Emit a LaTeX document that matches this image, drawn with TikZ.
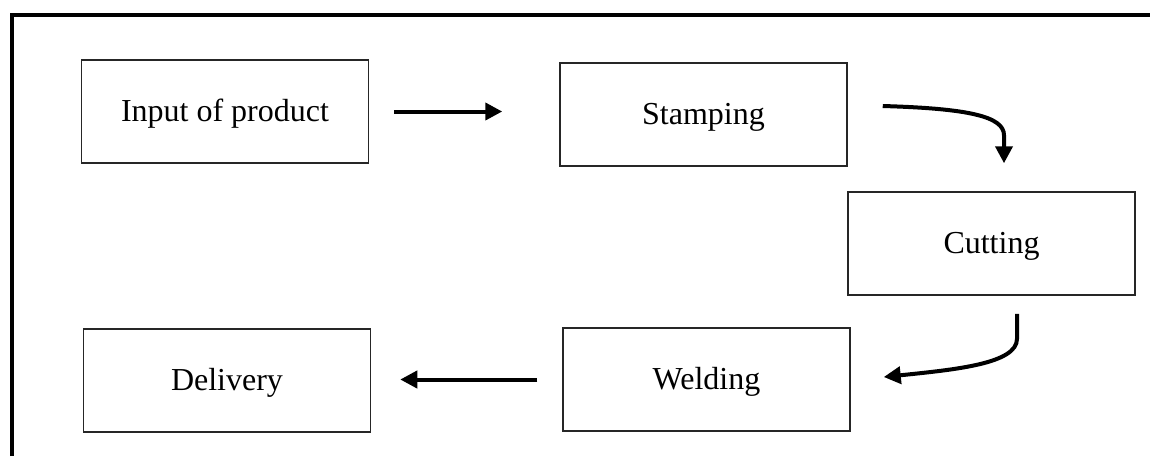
\documentclass[tikz,border=0pt]{standalone}
\usepackage{fontspec}
\setmainfont{Liberation Serif}
\usetikzlibrary{arrows.meta,calc}
\begin{document}
\begin{tikzpicture}[x=0.5pt,y=-0.5pt,
  stepbox/.style={draw=black!85,line width=0.75pt,minimum width=143.5pt,minimum height=51.5pt,inner sep=0pt,text depth=1pt,font=\fontsize{16}{19}\selectfont},
  arr/.style={line width=2pt,-{Triangle[length=8.5pt,width=8.5pt]}},
  frame/.style={line width=2pt}]
\useasboundingbox (0,0) rectangle (1150,456);
\draw[frame] (12,456) -- (12,14.5) -- (1150,14.5);
\node[stepbox] (inp) at (225,111.5) {Input of product};
\node[stepbox] (stamp) at (703.5,114.5) {Stamping};
\node[stepbox] (cut) at (991.5,243.5) {Cutting};
\node[stepbox] (weld) at (706.5,379.5) {Welding};
\node[stepbox] (del) at (227,380.5) {Delivery};
\draw[arr,shorten <=12.5pt,shorten >=28.5pt] (inp.east) -- (inp.east -| stamp.west);
\draw[arr] ($(stamp.east)+(35,-8.5)$) .. controls ($(stamp.east)+(120,-6)$) and ($(cut.north)+(12.5,-75)$) .. ($(cut.north)+(12.5,-56)$) -- ($(cut.north)+(12.5,-28)$);
\draw[arr] ($(cut.south)+(25.5,18)$) -- ($(cut.south)+(25.5,43)$) .. controls ($(cut.south)+(25.5,68)$) and ($(weld.east)+(105,-10)$) .. ($(weld.east)+(33,-2.5)$);
\draw[arr,shorten <=12.5pt,shorten >=14.5pt] (weld.west) -- (weld.west -| del.east);
\end{tikzpicture}
\end{document}
